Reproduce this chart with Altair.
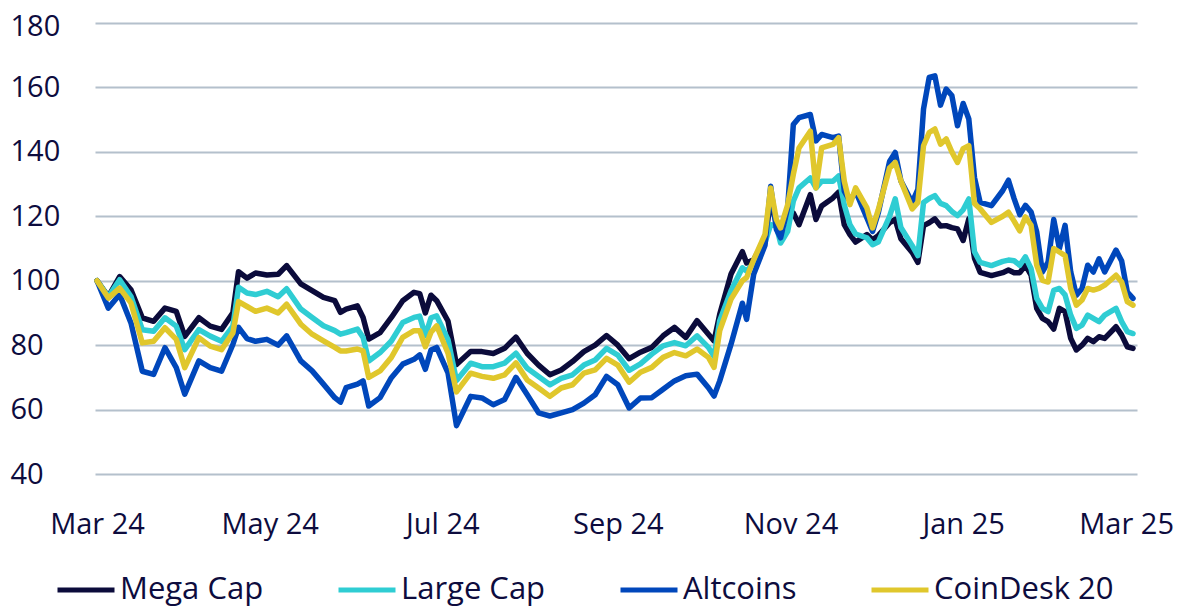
import altair as alt
import pandas as pd

# day offsets from 2024-03-01
days = [0, 4, 8, 12, 16, 20, 24, 28, 31, 36, 40, 44, 48, 50, 53, 56, 60, 64, 67, 72,
        76, 80, 84, 86, 88, 92, 94, 96, 100, 104, 108, 112, 114, 116, 118, 120, 124, 127,
        132, 136, 140, 144, 148, 152, 156, 160, 164, 168, 172, 176, 180, 184, 188, 192,
        196, 200, 204, 208, 212, 216, 218, 220, 224, 228, 229.5, 232, 236, 238, 240, 241.5,
        244, 246, 248, 252, 254, 256, 260, 262, 264, 266, 268, 272, 274, 276, 280, 282, 284,
        288, 290, 292, 294, 296, 298, 300, 302, 304, 306, 308, 310, 312, 316, 320, 322,
        324, 326, 328, 330, 332, 334, 336, 338, 340, 342, 344, 346, 348, 350, 352, 354,
        356, 360, 362, 364, 366]

mega = [100, 95.1, 101.3, 97.2, 88.5, 87.4, 91.5, 90.5, 82.7, 88.5, 85.9, 84.9, 90, 102.8, 100.8, 102.4, 101.8, 102, 104.7, 99,
        96.9, 94.8, 93.8, 90.2, 91.2, 92.2, 88.6, 81.9, 83.9, 88.6, 93.8, 96.4, 96, 90, 95.5, 93.8, 87.5, 74,
        78, 78, 77.4, 79, 82.5, 77.4, 73.8, 70.8, 72.3, 74.9, 78, 80, 83, 80, 75.8, 77.8,
        79.3, 82.9, 85.5, 82.4, 87.6, 83.4, 81.3, 89.6, 102.1, 109, 105.5, 106.5, 113, 124.7, 118, 117,
        119.5, 121, 117.4, 126.7, 119, 123.2, 125.7, 127.5, 117.4, 114.3, 112, 114.3, 112.7, 114, 118, 119, 113,
        108.8, 105.7, 117.1, 118, 119.2, 117, 117.1, 116.5, 116.1, 112.5, 119.2, 107, 102.6, 101.6, 102.5, 103.3,
        102.5, 102.5, 104.8, 101.7, 91.4, 88.3, 87.3, 85, 91.4, 90.4, 82.1, 78.5, 80, 82.1, 81.1, 82.6,
        82.1, 85.7, 83.1, 79.5, 79]

large = [100, 95, 100.3, 95.1, 84.8, 84.3, 88.5, 85.9, 78.6, 84.8, 82.8, 81.2, 85.9, 98, 96.2, 95.7, 96.7, 95, 97.5, 91.2,
         88.6, 86, 84.5, 83.4, 83.9, 85, 82.4, 75.1, 77.7, 81.3, 87, 88.6, 89, 83, 88.5, 89.1, 81.7, 69,
         74.4, 73.3, 73.3, 74.4, 77.5, 72.8, 70.3, 67.7, 69.7, 70.8, 73.8, 75.4, 79, 76.9, 72.2, 74.2,
         77.2, 79.8, 80.8, 79.8, 82.9, 79.3, 76.5, 87.6, 96.9, 104, 103, 105.5, 111.8, 117.4, 117, 111.7,
         115.3, 124.7, 128.8, 131.9, 128.8, 130.9, 130.9, 132.5, 123.6, 117.4, 114.5, 113.3, 111.2, 112, 120, 125.4, 116.5,
         110.9, 107.8, 124.3, 125.5, 126.4, 124, 123.3, 121.5, 120.2, 122, 125.4, 109, 105.7, 104.7, 106, 106.4,
         106.2, 104.8, 107.4, 103.7, 94.5, 91.4, 90.4, 97, 97.6, 95.6, 89.3, 85.2, 86.2, 89.3, 88.3, 87.3,
         89.3, 91.4, 87.3, 84.2, 83.6]

altcoins = [100, 91.5, 95.7, 86.9, 71.9, 70.9, 79.2, 73, 64.8, 75.1, 73, 71.9, 80.2, 85.5, 82, 81.2, 81.8, 80, 82.9, 75.1,
            72, 67.9, 63.7, 62.3, 66.8, 67.9, 68.9, 61.1, 63.7, 69.9, 74.1, 75.6, 77, 72.5, 78.5, 79.3, 71.4, 55,
            64.1, 63.6, 61.5, 63.1, 70, 64.6, 59, 58, 59, 60, 62, 64.6, 70.3, 67.7, 60.5, 63.6,
            63.7, 66.3, 68.9, 70.5, 71, 66.8, 64.2, 68.9, 80.3, 93, 88, 102, 111, 129.3, 116, 113.3,
            122.6, 148.5, 150.6, 151.6, 143.4, 145.4, 144.4, 144.9, 127.8, 124.7, 127.8, 119.5, 115.3, 121, 137, 139.8, 131,
            124.3, 128.4, 153.3, 163.1, 163.6, 154.5, 159.5, 157.5, 148.1, 155, 150.2, 132, 124.3, 123.3, 128, 131.2,
            125.5, 120.5, 123.4, 121.3, 115.1, 102.7, 105.8, 119, 110, 117.2, 102.7, 95.5, 97.6, 104.8, 102.7, 106.8,
            102.7, 109.5, 106.1, 96.5, 94.5]

coindesk20 = [100, 94.6, 97.7, 93.1, 80.7, 81.2, 85.4, 81.8, 73, 82.3, 79.7, 78.6, 83.8, 93.5, 92, 90.5, 91.5, 90, 92.7, 86.5,
              83.4, 81.3, 79.3, 78.2, 78.2, 78.8, 78.2, 70, 72, 76.2, 82.4, 84.5, 84.5, 79.5, 84, 86, 77.5, 65.5,
              71.3, 70.3, 69.7, 70.8, 74.5, 69.2, 66.7, 64.1, 66.7, 67.7, 71.3, 72.3, 75.9, 73.8, 68.5, 71.6,
              73.1, 76.2, 77.7, 76.7, 78.8, 76.2, 73.1, 84.5, 94.3, 100, 101, 106.5, 114.4, 128.8, 119, 116.4,
              123.6, 133, 141.2, 146.4, 128.8, 141.2, 142.3, 144.4, 130.9, 123.6, 128.8, 122.6, 116.4, 122, 135, 136.7, 131,
              122.3, 124.3, 141.9, 146, 147.1, 142.4, 144, 140, 136.7, 141, 141.9, 124, 122.3, 118.1, 120, 121.3,
              118.5, 115.5, 119.8, 117.2, 104.8, 100.1, 99.6, 110, 108.9, 107.8, 97.6, 92.4, 94, 97.6, 97.1, 97.6,
              98.6, 101.7, 99.6, 93.5, 92.4]

series_names = ["Mega Cap", "Large Cap", "Altcoins", "CoinDesk 20"]
series_colors = ["#0b0b3b", "#2fcdd3", "#0047bb", "#e0c72c"]
tick_dates = ["2024-03-01", "2024-05-01", "2024-07-01", "2024-09-01",
              "2024-11-01", "2025-01-01", "2025-03-01"]
y_ticks = [40, 60, 80, 100, 120, 140, 160, 180]

start = pd.Timestamp("2024-03-01")
dates = [start + pd.Timedelta(days=d) for d in days]
frames = []
for i, (name, vals) in enumerate(zip(series_names, [mega, large, altcoins, coindesk20])):
    frames.append(pd.DataFrame({"date": dates, "value": vals, "series": name, "ord": i}))
df = pd.concat(frames, ignore_index=True)

TEXT = "#0d0c3e"
FONT = "Open Sans"

chart = alt.Chart(df).mark_line(strokeWidth=5.5, strokeJoin="round", strokeCap="round").encode(
    x=alt.X("date:T",
            scale=alt.Scale(domain=[alt.DateTime(year=2024, month=2, date=29, hours=7),
                                    alt.DateTime(year=2025, month=3, date=3, hours=10)]),
            axis=alt.Axis(values=[alt.DateTime(year=int(t[:4]), month=int(t[5:7]), date=1) for t in tick_dates],
                          format="%b %y", title=None, grid=False, domain=False, ticks=False,
                          labelFontSize=29, labelPadding=36, labelColor=TEXT, labelFont=FONT,
                          labelOffset={"condition": {"test": "datum.index == 1", "value": -4}, "value": 0},
                          labelOverlap=False, labelFlush=False)),
    y=alt.Y("value:Q", scale=alt.Scale(domain=[40, 180], nice=False, zero=False),
            axis=alt.Axis(values=y_ticks, title=None, domain=False, ticks=False,
                          gridColor="#b4c0cc", gridWidth=2,
                          labelFontSize=29, labelColor=TEXT, labelFont=FONT,
                          labelOffset={"condition": {"test": "datum.value == 180", "value": 3}, "value": 0},
                          labelAlign="left", labelPadding=85, labelBaseline="middle")),
    color=alt.Color("series:N",
                    scale=alt.Scale(domain=series_names, range=series_colors),
                    sort=series_names,
                    legend=alt.Legend(title=None, orient="none", direction="horizontal",
                                      legendX=-40, legendY=536,
                                      symbolType="stroke", symbolSize=3249, symbolStrokeWidth=5,
                                      labelFontSize=31, labelColor=TEXT, labelFont=FONT,
                                      labelLimit=400,
                                      labelOffset=3, columnPadding=64, columns=4)),
    order=alt.Order("ord:Q"),
    detail="ord:N",
).properties(
    width=1042, height=451,
    padding={"left": 87, "top": 15, "right": 41, "bottom": 133},
    autosize=alt.AutoSizeParams(type="none"),
).configure_view(stroke=None)

chart.save("out.html", embed_options={"renderer": "svg", "actions": False})
